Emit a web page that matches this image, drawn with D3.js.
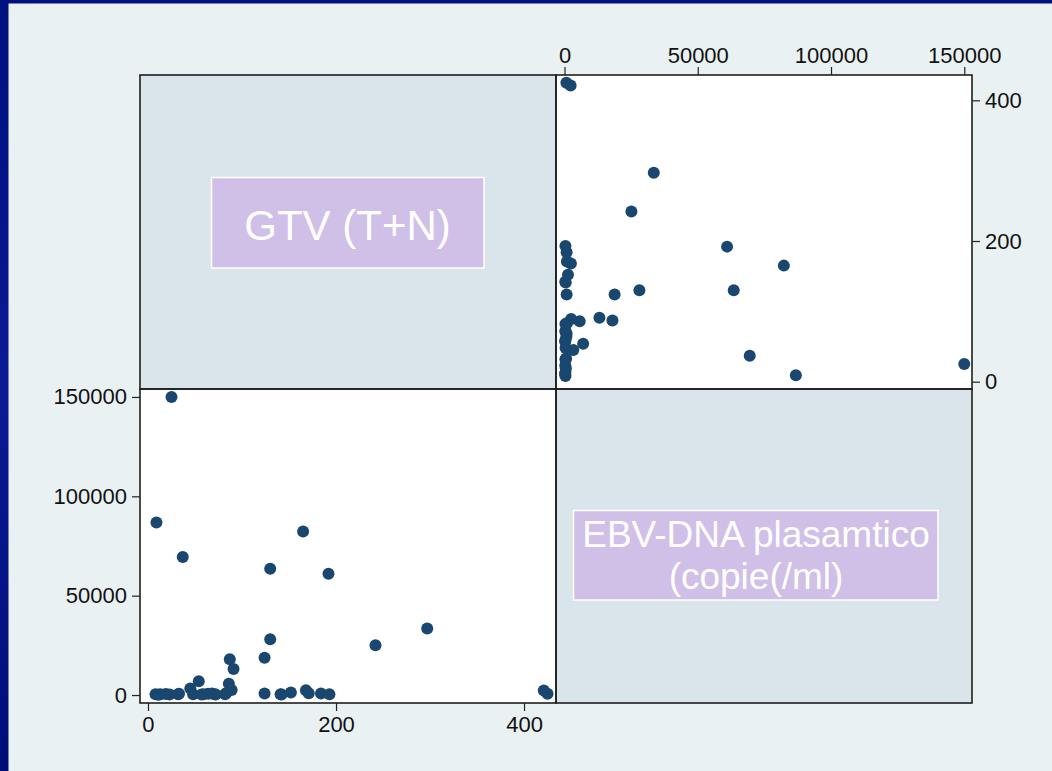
<!DOCTYPE html>
<html>
<head>
<meta charset="utf-8">
<script src="https://cdn.jsdelivr.net/npm/d3@7"></script>
<style>
  html, body { margin: 0; padding: 0; background: #001080; }
  svg { display: block; }
  .tick text { font-family: "Liberation Sans", Arial, Helvetica, sans-serif; font-size: 22px; fill: #111; }
  .tick line { stroke: #222; stroke-width: 1.2; }
  .domain { display: none; }
</style>
</head>
<body>
<svg id="chart" width="1052" height="771"></svg>
<script>
// GTV (T+N) and plasma EBV-DNA (copies/ml), one entry per patient
const gtv = [25, 9, 37, 165, 130, 192, 297, 242, 130, 124, 87, 91, 54, 86, 425, 421,
             8, 13, 23, 32, 45, 48, 59, 68, 72, 82, 89, 124, 142, 152, 168, 171, 184, 193,
             11, 19, 33, 57, 64, 71, 83, 141];
const ebv = [150000, 86800, 69500, 82300, 63500, 61000, 33500, 25100, 28100, 18800, 18000, 13100, 7000, 5700, 700, 2300,
             350, 350, 300, 350, 3300, 400, 350, 800, 300, 350, 2500, 800, 300, 1300, 2400, 900, 800, 350,
             200, 500, 600, 250, 700, 400, 900, 450];

// Tick values for each variable
const gtvTicks = [0, 200, 400];
const ebvTicks = [0, 50000, 100000, 150000];

// Diagonal labels
const gtvLabel = ["GTV (T+N)"];
const ebvLabel = ["EBV-DNA plasamtico", "(copie(/ml)"];

const svg = d3.select("#chart");
const W = 1052, H = 771;
const FONT = '"Liberation Sans", Arial, Helvetica, sans-serif';

// slide background: navy frame with light graph region
const defs = svg.append("defs");
const grad = defs.append("linearGradient").attr("id", "navy").attr("x1", 0).attr("y1", 0).attr("x2", 0).attr("y2", 1);
grad.append("stop").attr("offset", "0%").attr("stop-color", "#00107e");
grad.append("stop").attr("offset", "50%").attr("stop-color", "#0a1a94");
grad.append("stop").attr("offset", "100%").attr("stop-color", "#000d78");
svg.append("rect").attr("width", W).attr("height", H).attr("fill", "url(#navy)");
svg.append("rect").attr("x", 8.5).attr("y", 3.5).attr("width", W - 8.5).attr("height", H - 3.5).attr("fill", "#eaf1f3");

// matrix geometry
const L = 140, R = 972, T = 75, B = 703, MX = 556, MY = 389;

// scales: lower-left cell (GTV across, EBV up), upper-right cell (EBV across, GTV up)
const xGtv = d3.scaleLinear().domain([-8.5, 434]).range([L, MX]);
const yEbv = d3.scaleLinear().domain([-4000, 154000]).range([B, MY]);
const xEbv = d3.scaleLinear().domain([-3190, 152900]).range([MX, R]);
const yGtv = d3.scaleLinear().domain([-10.4, 436]).range([MY, T]);

// cells
const cells = [
  {x: L, y: T, w: MX - L, h: MY - T, fill: "#d9e5eb"},
  {x: MX, y: T, w: R - MX, h: MY - T, fill: "#ffffff"},
  {x: L, y: MY, w: MX - L, h: B - MY, fill: "#ffffff"},
  {x: MX, y: MY, w: R - MX, h: B - MY, fill: "#d9e5eb"}
];
svg.selectAll("rect.cell").data(cells).join("rect")
  .attr("class", "cell")
  .attr("x", d => d.x).attr("y", d => d.y).attr("width", d => d.w).attr("height", d => d.h)
  .attr("fill", d => d.fill);

const pts = gtv.map((g, i) => ({g, e: ebv[i]}));
const dotColor = "#1a476f";
const r = 6;

// lower-left: GTV vs EBV
svg.append("g").selectAll("circle").data(pts).join("circle")
  .attr("cx", d => xGtv(d.g)).attr("cy", d => yEbv(d.e)).attr("r", r).attr("fill", dotColor);

// upper-right: EBV vs GTV
svg.append("g").selectAll("circle").data(pts).join("circle")
  .attr("cx", d => xEbv(d.e)).attr("cy", d => yGtv(d.g)).attr("r", r).attr("fill", dotColor);

// cell outlines
svg.selectAll("rect.outline").data(cells).join("rect")
  .attr("class", "outline")
  .attr("x", d => d.x).attr("y", d => d.y).attr("width", d => d.w).attr("height", d => d.h)
  .attr("fill", "none").attr("stroke", "#1e1e1e").attr("stroke-width", 1.6);

// axes
svg.append("g").attr("transform", `translate(0,${B})`)
  .call(d3.axisBottom(xGtv).tickValues(gtvTicks).tickSize(8).tickPadding(5).tickFormat(d3.format("d")));
svg.append("g").attr("transform", `translate(${L},0)`)
  .call(d3.axisLeft(yEbv).tickValues(ebvTicks).tickSize(8).tickPadding(5).tickFormat(d3.format("d")));
svg.append("g").attr("transform", `translate(0,${T})`)
  .call(d3.axisTop(xEbv).tickValues(ebvTicks).tickSize(8).tickPadding(4).tickFormat(d3.format("d")));
svg.append("g").attr("transform", `translate(${R},0)`)
  .call(d3.axisRight(yGtv).tickValues(gtvTicks).tickSize(8).tickPadding(5).tickFormat(d3.format("d")));
svg.selectAll(".tick text").style("font-family", FONT);

// diagonal variable labels
function labelBox(cx, box, lines, size, baselines) {
  svg.append("rect")
    .attr("x", box[0]).attr("y", box[1]).attr("width", box[2]).attr("height", box[3])
    .attr("fill", "#d0c0e8").attr("stroke", "#ffffff").attr("stroke-width", 1.5);
  svg.append("g").selectAll("text").data(lines).join("text")
    .attr("x", cx).attr("y", (d, i) => baselines[i])
    .attr("text-anchor", "middle")
    .attr("font-family", FONT).attr("font-size", size).attr("fill", "#ffffff")
    .text(d => d);
}
labelBox(347.5, [211.5, 177.5, 272.5, 90.5], gtvLabel, 42, [240]);
labelBox(756, [573.5, 510.5, 364.5, 89.5], ebvLabel, 37, [547, 589]);
</script>
</body>
</html>
